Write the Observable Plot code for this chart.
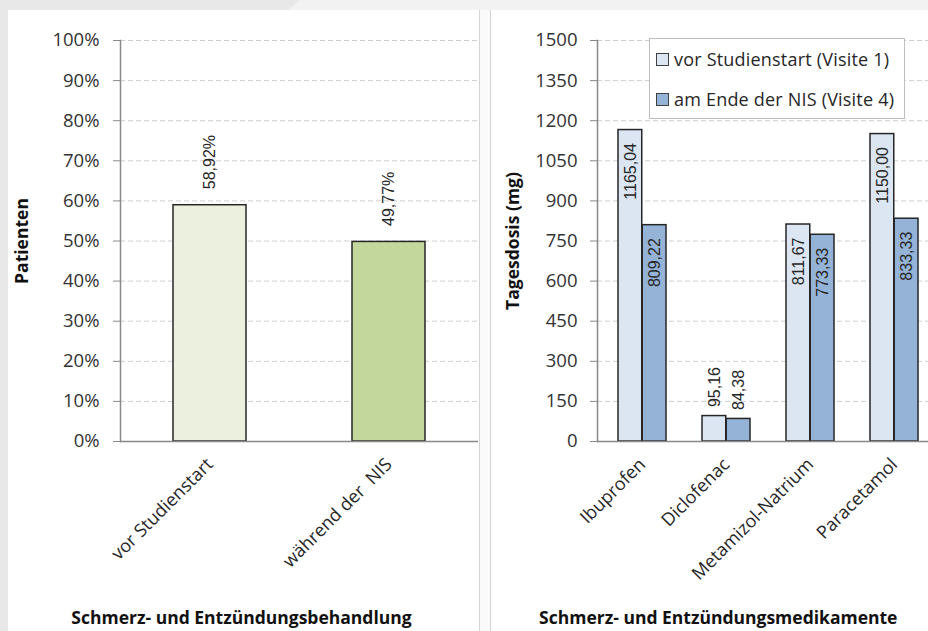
<!DOCTYPE html>
<html>
<head>
<meta charset="utf-8">
<script src="https://cdn.jsdelivr.net/npm/d3@7"></script>
<script src="https://cdn.jsdelivr.net/npm/@observablehq/plot@0.6"></script>
<style>
  html, body { margin: 0; padding: 0; }
  body { width: 928px; height: 631px; overflow: hidden; position: relative; background: #f2f2f2; font-family: "Open Sans", sans-serif; }
  .bgdark { position: absolute; left: 0; top: 0; width: 300px; height: 10px; background: #e8e8e8; clip-path: polygon(0 0, 100% 0, 96% 100%, 0 100%); }
  .leftstrip { position: absolute; left: 0; top: 0; width: 8px; height: 631px; background: #e8e8e8; }
  .panel { position: absolute; background: #ffffff; }
  .sep { position: absolute; top: 10px; width: 1px; height: 621px; background: #d4d4d4; }
  .chart { position: absolute; top: 0; height: 631px; }
  .chart svg { background: transparent !important; overflow: visible; max-width: none !important; }
  svg text { white-space: pre; }
  .legend { position: absolute; left: 649px; top: 38px; width: 254px; height: 79px; border: 1px solid #bfbfbf; background: #fff; font-family: "Open Sans", sans-serif; font-size: 18px; letter-spacing: 0.2px; color: #262626; }
  .legend .row { height: 40px; display: flex; align-items: center; padding-left: 6px; white-space: pre; }
  .legend .sw { width: 11px; height: 11px; border: 1px solid #404040; margin-right: 5px; flex: none; }
</style>
</head>
<body>
<div class="leftstrip"></div>
<div class="bgdark"></div>
<div class="panel" style="left:8px; top:10px; width:471px; height:621px;"></div>
<div class="panel" style="left:480px; top:10px; width:10px; height:621px; background:#fafafa;"></div>
<div class="panel" style="left:491px; top:10px; width:437px; height:621px;"></div>
<div class="sep" style="left:479px;"></div>
<div class="sep" style="left:490px;"></div>
<div id="left" class="chart" style="left:0px; width:480px;"></div>
<div id="right" class="chart" style="left:480px; width:460px;"></div>
<div id="legend" class="legend"></div>
<script>
// ---------- data ----------
const leftCategories = ["vor Studienstart", "während der  NIS"];
const leftValues = [0.5892, 0.4977];
const leftLabels = ["58,92%", "49,77%"];
const leftColors = ["#ebf1de", "#c3d69b"];
const leftTicks = [0, 0.1, 0.2, 0.3, 0.4, 0.5, 0.6, 0.7, 0.8, 0.9, 1.0];
const leftYTitle = "Patienten";
const leftXTitle = "Schmerz- und Entzündungsbehandlung";

const drugs = ["Ibuprofen", "Diclofenac", "Metamizol-Natrium", "Paracetamol"];
const visit1 = [1165.04, 95.16, 811.67, 1150.00];
const visit4 = [809.22, 84.38, 773.33, 833.33];
const seriesNames = ["vor Studienstart (Visite 1)", "am Ende der NIS (Visite 4)"];
const seriesColors = ["#dce6f2", "#95b3d7"];
const rightTicks = [0, 150, 300, 450, 600, 750, 900, 1050, 1200, 1350, 1500];
const rightYTitle = "Tagesdosis (mg)";
const rightXTitle = "Schmerz- und Entzündungsmedikamente";

// ---------- styles ----------
const axisGray = "#898989";
const gridGray = "#cfcfcf";
const textColor = "#333333";
const barStroke = "#262626";
const tickFont = 18.5;
const catFont = 18;
const titleFont = 17.5;
const valueFont = "Liberation Sans, Arial, sans-serif";
const deComma = v => v.toFixed(2).replace(".", ",");

// ---------- left chart ----------
const leftData = leftCategories.map((c, i) => ({cat: c, value: leftValues[i], label: leftLabels[i]}));

const leftPlot = Plot.plot({
  width: 480,
  height: 631,
  marginLeft: 120,
  marginRight: 2,
  marginTop: 40,
  marginBottom: 190,
  style: {fontFamily: "Open Sans, sans-serif", fontSize: "17px", color: textColor, background: "transparent"},
  x: {domain: leftCategories, paddingInner: 0.59, paddingOuter: 0.295, label: null},
  y: {domain: [0, 1], label: null},
  color: {domain: leftCategories, range: leftColors},
  marks: [
    Plot.gridY(leftTicks, {stroke: gridGray, strokeOpacity: 1, strokeDasharray: "5,3"}),
    Plot.barY(leftData, {x: "cat", y: "value", fill: "cat", stroke: barStroke, strokeWidth: 1.5}),
    Plot.text(leftData, {x: "cat", y: "value", text: "label", rotate: -90, textAnchor: "start", lineAnchor: "middle", dy: -16, fontSize: 16, fontFamily: valueFont, fill: "#262626"}),
    Plot.frame({anchor: "left", stroke: axisGray, strokeWidth: 1.5}),
    Plot.ruleY([0], {stroke: axisGray, strokeWidth: 1.5}),
    Plot.axisY(leftTicks, {tickFormat: d3.format(".0%"), tickSize: 7, tickPadding: 14, stroke: axisGray, fill: textColor, fontSize: tickFont, label: null}),
    Plot.axisX({tickRotate: -45, tickSize: 0, tickPadding: 20, fill: "#262626", fontSize: catFont, label: null}),
    Plot.text([leftYTitle], {frameAnchor: "left", textAnchor: "middle", rotate: -90, dx: -98, fontWeight: "bold", fontSize: titleFont, fill: "#111"}),
    Plot.text([leftXTitle], {frameAnchor: "bottom", textAnchor: "middle", lineAnchor: "middle", dy: 177, dx: -58, fontWeight: "bold", fontSize: titleFont, fill: "#111"})
  ]
});
document.getElementById("left").appendChild(leftPlot);

// ---------- right chart ----------
const r1 = drugs.map((d, i) => ({drug: d, value: visit1[i]}));
const r4 = drugs.map((d, i) => ({drug: d, value: visit4[i]}));
const half = 24.25;
const inside = d => d.value > 300;
const outside = d => d.value <= 300;
const labelOpts = {x: "drug", y: "value", text: d => deComma(d.value), rotate: -90, lineAnchor: "middle", fontSize: 16, fontFamily: valueFont, fill: "#262626"};

const rightPlot = Plot.plot({
  width: 460,
  height: 631,
  marginLeft: 117,
  marginRight: 1.5,
  marginTop: 40,
  marginBottom: 190,
  style: {fontFamily: "Open Sans, sans-serif", fontSize: "17px", color: textColor, background: "transparent"},
  x: {domain: drugs, paddingInner: 0.426, paddingOuter: 0.233, label: null},
  y: {domain: [0, 1500], label: null},
  marks: [
    Plot.gridY(rightTicks, {stroke: gridGray, strokeOpacity: 1, strokeDasharray: "5,3"}),
    Plot.barY(r1, {x: "drug", y: "value", fill: seriesColors[0], stroke: barStroke, strokeWidth: 1.5, insetRight: half}),
    Plot.barY(r4, {x: "drug", y: "value", fill: seriesColors[1], stroke: barStroke, strokeWidth: 1.5, insetLeft: half}),
    Plot.text(r1.filter(inside), {...labelOpts, textAnchor: "end", dx: -half / 2, dy: 13}),
    Plot.text(r4.filter(inside), {...labelOpts, textAnchor: "end", dx: half / 2, dy: 13}),
    Plot.text(r1.filter(outside), {...labelOpts, textAnchor: "start", dx: -half / 2, dy: -9}),
    Plot.text(r4.filter(outside), {...labelOpts, textAnchor: "start", dx: half / 2, dy: -9}),
    Plot.frame({anchor: "left", stroke: axisGray, strokeWidth: 1.5}),
    Plot.ruleY([0], {stroke: axisGray, strokeWidth: 1.5}),
    Plot.axisY(rightTicks, {tickFormat: d => String(d), tickSize: 7, tickPadding: 13, stroke: axisGray, fill: textColor, fontSize: tickFont, label: null}),
    Plot.axisX({tickRotate: -45, tickSize: 0, tickPadding: 20, fill: "#262626", fontSize: catFont, label: null}),
    Plot.text([rightYTitle], {frameAnchor: "left", textAnchor: "middle", rotate: -90, dx: -84, fontWeight: "bold", fontSize: titleFont, fill: "#111"}),
    Plot.text([rightXTitle], {frameAnchor: "bottom", textAnchor: "middle", lineAnchor: "middle", dy: 177, dx: -50, fontWeight: "bold", fontSize: titleFont, fill: "#111"})
  ]
});
document.getElementById("right").appendChild(rightPlot);

// ---------- legend ----------
const legend = document.getElementById("legend");
seriesNames.forEach((name, i) => {
  const row = document.createElement("div");
  row.className = "row";
  const sw = document.createElement("span");
  sw.className = "sw";
  sw.style.background = seriesColors[i];
  const t = document.createElement("span");
  t.textContent = name;
  row.appendChild(sw);
  row.appendChild(t);
  legend.appendChild(row);
});
</script>
</body>
</html>
